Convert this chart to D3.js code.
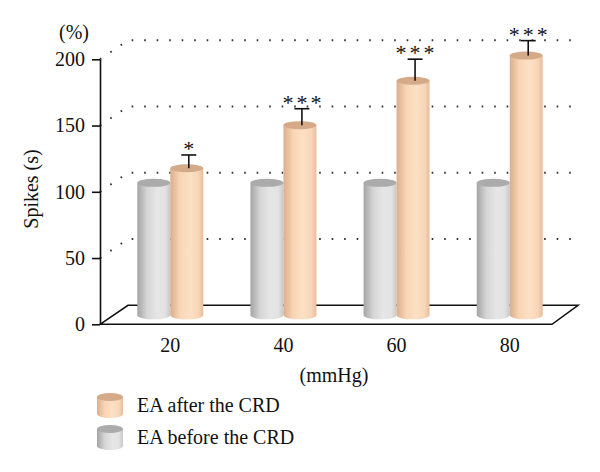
<!DOCTYPE html>
<html>
<head>
<meta charset="utf-8">
<script src="https://cdn.jsdelivr.net/npm/d3@7"></script>
<style>
  html, body { margin: 0; padding: 0; background: #fff; }
  svg { display: block; }
  text { font-family: "Liberation Serif", "DejaVu Serif", serif; fill: #111; }
</style>
</head>
<body>
<svg id="chart" width="600" height="472"></svg>
<script>
// ---- data ----
const categories = ["20", "40", "60", "80"];
const seriesNames = ["EA before the CRD", "EA after the CRD"];
const beforeValues = [100, 100, 100, 100];
const afterValues = [111, 143.5, 177, 196];
const afterErrors = [10, 12.4, 16.3, 11.3];
const significance = ["*", "***", "***", "***"];
const yTicks = [0, 50, 100, 150, 200];

// ---- layout ----
const svg = d3.select("#chart");
const axisX = 100;
const depthDx = 28, depthDy = -19;
const midDy = -9;
const floorRight = 578;

const y = d3.scaleLinear().domain([0, 200]).range([324.3, 59.3]);
const x = d3.scaleBand().domain(categories).range([137.3, 542.7]).paddingInner(0.417).paddingOuter(0);
const xs = d3.scaleBand().domain(seriesNames).range([0, x.bandwidth()]).padding(0);

const defs = svg.append("defs");
function grad(id, stops) {
  const g = defs.append("linearGradient").attr("id", id).attr("x1", "0%").attr("x2", "100%").attr("y1", "0%").attr("y2", "0%");
  stops.forEach(s => g.append("stop").attr("offset", s[0]).attr("stop-color", s[1]));
}
grad("gGray", [["0%", "#a4a4a4"], ["30%", "#d6d6d6"], ["60%", "#e6e6e6"], ["85%", "#e2e2e2"], ["100%", "#c8c8c8"]]);
grad("gOrange", [["0%", "#dcae8c"], ["30%", "#f8d6b6"], ["60%", "#fde0c4"], ["85%", "#f8d6b8"], ["100%", "#e8bc9a"]]);
const styles = {
  "EA before the CRD": { body: "url(#gGray)", top: "#ababab" },
  "EA after the CRD": { body: "url(#gOrange)", top: "#d5aa89" }
};

// ---- gridlines (dotted, with left wall segment) ----
const grid = svg.append("g");
yTicks.filter(v => v > 0).forEach(v => {
  const yy = y(v);
  grid.append("path")
    .attr("d", `M${axisX},${yy} L${axisX + depthDx},${yy + depthDy} L${floorRight},${yy + depthDy}`)
    .attr("fill", "none").attr("stroke", "#333").attr("stroke-width", 2)
    .attr("stroke-dasharray", "1.6,10.9");
});

// ---- floor ----
const y0 = y(0);
svg.append("path")
  .attr("d", `M${axisX},${y0} L${axisX + depthDx},${y0 + depthDy} L${floorRight},${y0 + depthDy} L${floorRight - depthDx + 2},${y0} Z`)
  .attr("fill", "none").attr("stroke", "#111").attr("stroke-width", 1.6);

// ---- cylinders ----
function cylinder(g, x0, w, v, st, ry) {
  const yt = y(v) + midDy, yb = y(0) + midDy;
  const rx = w / 2;
  g.append("path")
    .attr("d", `M${x0},${yt} L${x0},${yb} A${rx},${ry} 0 0 0 ${x0 + w},${yb} L${x0 + w},${yt} Z`)
    .attr("fill", st.body);
  g.append("ellipse").attr("cx", x0 + rx).attr("cy", yt).attr("rx", rx).attr("ry", ry).attr("fill", st.top);
  return yt;
}

const bars = svg.append("g");
categories.forEach((c, i) => {
  const gx = x(c);
  cylinder(bars, gx + xs(seriesNames[0]), xs.bandwidth(), beforeValues[i], styles[seriesNames[0]], 4);
  const ax0 = gx + xs(seriesNames[1]);
  const yt = cylinder(bars, ax0, xs.bandwidth(), afterValues[i], styles[seriesNames[1]], 4);
  const cx = ax0 + xs.bandwidth() / 2 + 2;
  const ye = y(afterValues[i] + afterErrors[i]) + midDy;
  bars.append("line").attr("x1", cx).attr("x2", cx).attr("y1", yt).attr("y2", ye).attr("stroke", "#111").attr("stroke-width", 1.6);
  bars.append("line").attr("x1", cx - 7.5).attr("x2", cx + 7.5).attr("y1", ye).attr("y2", ye).attr("stroke", "#111").attr("stroke-width", 1.6);
  const multi = significance[i].length > 1;
  bars.append("text").attr("x", cx + (multi ? 1.5 : 0)).attr("y", ye + 1).attr("text-anchor", "middle")
    .attr("font-size", 22).attr("letter-spacing", multi ? 3 : 0)
    .text(significance[i]);
});

// ---- y axis ----
const yAxis = d3.axisLeft(y).tickValues(yTicks).tickSize(8).tickSizeOuter(0).tickPadding(7);
const ya = svg.append("g").attr("transform", `translate(${axisX},0)`).call(yAxis);
ya.select(".domain").attr("stroke", "#111").attr("stroke-width", 1.6);
ya.selectAll(".tick line").attr("stroke", "#111").attr("stroke-width", 1.6);
ya.selectAll(".tick text").attr("font-size", 20).attr("font-family", "Liberation Serif, serif").attr("fill", "#111");

// ---- x category labels ----
svg.append("g").selectAll("text").data(categories).join("text")
  .attr("x", d => x(d) + xs.bandwidth())
  .attr("y", 352)
  .attr("text-anchor", "middle").attr("font-size", 20)
  .text(d => d);

// ---- axis titles ----
svg.append("text").attr("x", 334).attr("y", 382).attr("text-anchor", "middle").attr("font-size", 20).text("(mmHg)");
svg.append("text").attr("x", 74).attr("y", 39).attr("text-anchor", "middle").attr("font-size", 20).text("(%)");
svg.append("text").attr("transform", "translate(38,189) rotate(-90)").attr("text-anchor", "middle").attr("font-size", 20).text("Spikes (s)");

// ---- legend ----
const legendItems = [seriesNames[1], seriesNames[0]];
const lg = svg.append("g");
legendItems.forEach((name, i) => {
  const top = 393 + i * 32;
  const st = styles[name];
  const lx = 97, lw = 26, lh = 25, ery = 4;
  lg.append("path")
    .attr("d", `M${lx},${top + ery} L${lx},${top + lh - ery} A${lw / 2},${ery} 0 0 0 ${lx + lw},${top + lh - ery} L${lx + lw},${top + ery} Z`)
    .attr("fill", st.body);
  lg.append("ellipse").attr("cx", lx + lw / 2).attr("cy", top + ery).attr("rx", lw / 2).attr("ry", ery).attr("fill", st.top);
  lg.append("text").attr("x", 137).attr("y", top + 19).attr("font-size", 20).text(name);
});
</script>
</body>
</html>
